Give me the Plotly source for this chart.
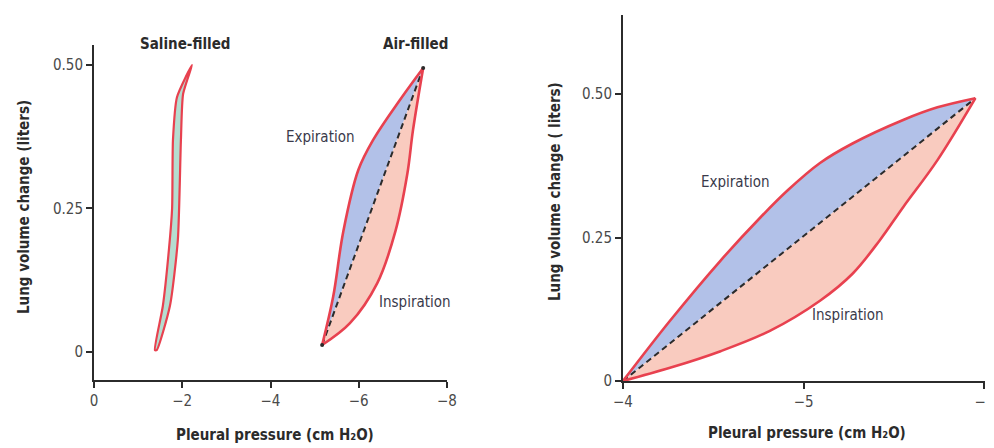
import plotly.graph_objects as go

# ---------------- data ----------------
# Left panel: saline-filled loop (closed outline)
saline_p = [-1.38, -1.56, -1.70, -1.77, -1.79, -1.88, -2.22, -2.02, -1.97, -1.90, -1.72, -1.42, -1.38]
saline_v = [0.003, 0.08, 0.18, 0.25, 0.37, 0.444, 0.50, 0.45, 0.37, 0.195, 0.08, 0.003, 0.003]

# Left panel: air-filled loop
air_exp_p = [-5.17, -5.42, -5.65, -5.99, -6.33, -6.94, -7.46]
air_exp_v = [0.012, 0.096, 0.21, 0.317, 0.37, 0.44, 0.495]
air_insp_p = [-5.17, -5.80, -6.42, -6.83, -7.10, -7.23, -7.46]
air_insp_v = [0.012, 0.05, 0.12, 0.21, 0.31, 0.387, 0.495]

# Right panel: enlarged air-filled loop
r_exp_p = [-4.0, -4.26, -4.54, -4.76, -4.91, -5.09, -5.27, -5.55, -5.74, -5.95]
r_exp_v = [0.0, 0.105, 0.21, 0.285, 0.332, 0.38, 0.414, 0.455, 0.477, 0.493]
r_insp_p = [-4.0, -4.26, -4.54, -4.81, -5.09, -5.27, -5.42, -5.55, -5.74, -5.95]
r_insp_v = [0.0, 0.023, 0.052, 0.087, 0.14, 0.187, 0.245, 0.303, 0.385, 0.493]

left_xticks = [0, -2, -4, -6, -8]
left_xlabels = ["0", "\u22122", "\u22124", "\u22126", "\u22128"]
right_xticks = [-4, -5, -6]
right_xlabels = ["\u22124", "\u22125", "\u22126"]
yticks = [0, 0.25, 0.5]
ylabels = ["0", "0.25", "0.50"]

# ---------------- style ----------------
RED = "#e8414f"
BLUE = "rgba(178,193,232,1)"
PINK = "rgba(249,203,191,1)"
TEAL = "#b5ddd0"
DARK = "#2b2b2b"
TICKC = "#4a4a4a"
FONT = "DejaVu Sans Condensed, Liberation Sans Narrow, Arial Narrow, sans-serif"

fig = go.Figure()

def loop(xs_e, ys_e, xs_i, ys_i, xa, ya, dots=False):
    fig.add_trace(go.Scatter(x=xs_e, y=ys_e, xaxis=xa, yaxis=ya, mode="lines",
                             line=dict(width=0, shape="spline"), fill="toself",
                             fillcolor=BLUE, hoverinfo="skip", showlegend=False))
    fig.add_trace(go.Scatter(x=xs_i, y=ys_i, xaxis=xa, yaxis=ya, mode="lines",
                             line=dict(width=0, shape="spline"), fill="toself",
                             fillcolor=PINK, hoverinfo="skip", showlegend=False))
    fig.add_trace(go.Scatter(x=[xs_e[0], xs_e[-1]], y=[ys_e[0], ys_e[-1]], xaxis=xa, yaxis=ya,
                             mode="lines", line=dict(color=DARK, width=2, dash="6px,4px"),
                             hoverinfo="skip", showlegend=False))
    for xs, ys in ((xs_e, ys_e), (xs_i, ys_i)):
        fig.add_trace(go.Scatter(x=xs, y=ys, xaxis=xa, yaxis=ya, mode="lines",
                                 line=dict(color=RED, width=2.6, shape="spline"),
                                 hoverinfo="skip", showlegend=False))
    if dots:
        fig.add_trace(go.Scatter(x=[xs_e[0], xs_e[-1]], y=[ys_e[0], ys_e[-1]], xaxis=xa, yaxis=ya,
                                 mode="markers", marker=dict(color=DARK, size=4),
                                 hoverinfo="skip", showlegend=False))

fig.add_trace(go.Scatter(x=saline_p, y=saline_v, xaxis="x", yaxis="y", mode="lines",
                         line=dict(color=RED, width=2.2, shape="spline", smoothing=0.6),
                         fill="toself", fillcolor=TEAL, hoverinfo="skip", showlegend=False))

loop(air_exp_p, air_exp_v, air_insp_p, air_insp_v, "x", "y", dots=True)
loop(r_exp_p, r_exp_v, r_insp_p, r_insp_v, "x2", "y2")

# page has an 8px body margin: figure placed at (8,8) in the window
OX, OY = 8, 8
W, H = 994 - OX, 448 - OY
def dx(a, b):
    return [(a - OX) / W, (b - OX) / W]
def dy(top, bottom):
    return [(H - (bottom - OY)) / H, (H - (top - OY)) / H]

axis_common = dict(showgrid=False, zeroline=False, showline=True, linecolor=DARK, linewidth=2,
                   ticks="outside", ticklen=6, tickwidth=2, tickcolor=DARK, automargin=False,
                   tickfont=dict(family=FONT, size=15, color=TICKC), fixedrange=True,
                   ticklabeloverflow="allow")

fig.update_layout(
    template="none",
    width=W, height=H, margin=dict(l=0, r=0, t=0, b=0, pad=0),
    paper_bgcolor="white", plot_bgcolor="white", showlegend=False,
    xaxis=dict(domain=dx(94, 447), range=[0, -8], tickvals=left_xticks, ticktext=left_xlabels,
               anchor="y", **axis_common),
    yaxis=dict(domain=dy(45, 380), range=[-0.049, 0.535], tickvals=yticks, ticktext=ylabels,
               anchor="x", **axis_common),
    xaxis2=dict(domain=dx(623, 985), range=[-4, -6.003], tickvals=right_xticks, ticktext=right_xlabels,
                anchor="y2", **axis_common),
    yaxis2=dict(domain=dy(15, 381), range=[0, 0.638], tickvals=yticks, ticktext=ylabels,
                anchor="x2", **axis_common),
)

def txt(x, y, s, size=15, bold=False, angle=0, color="#3a3a4a"):
    fig.add_annotation(x=(x - OX) / W, y=(H - (y - OY)) / H, xref="paper", yref="paper", text=s,
                       showarrow=False, textangle=angle, xanchor="center", yanchor="middle",
                       font=dict(family=FONT, size=size, color=DARK if bold else color))

txt(185, 44, "<b>Saline-filled</b>", size=15, bold=True)
txt(415, 44, "<b>Air-filled</b>", size=15, bold=True)
txt(320, 137, "Expiration", size=15)
txt(415, 302, "Inspiration", size=15)
txt(735, 182, "Expiration", size=15)
txt(848, 315, "Inspiration", size=15)
txt(275, 435, "<b>Pleural pressure (cm H\u2082O)</b>", size=15, bold=True)
txt(807, 433, "<b>Pleural pressure (cm H\u2082O)</b>", size=15, bold=True)
txt(24, 207, "<b>Lung volume change (liters)</b>", size=15, bold=True, angle=-90)
txt(555, 192, "<b>Lung volume change ( liters)</b>", size=15, bold=True, angle=-90)

fig.write_html("out.html")
